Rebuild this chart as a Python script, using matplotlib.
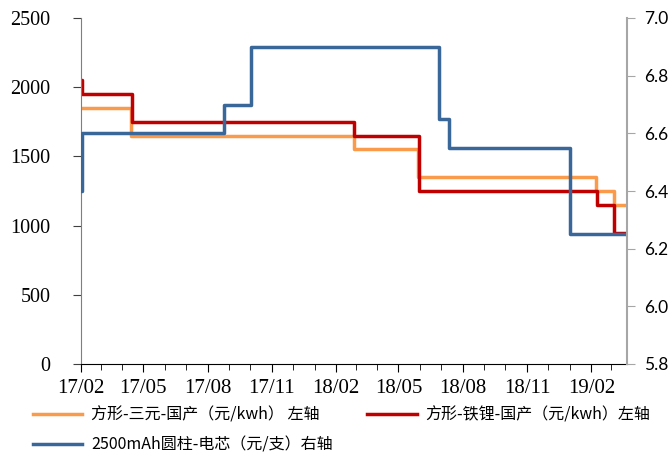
import numpy as np
import pandas as pd
import matplotlib
matplotlib.use("Agg")
import matplotlib.pyplot as plt
import matplotlib.dates as mdates
from matplotlib.ticker import MultipleLocator, FormatStrFormatter

# price change points (step series, value holds until next date)
ncm_dates = ["2017-02-01", "2017-04-14", "2018-02-26", "2018-05-29", "2019-02-08", "2019-03-05", "2019-03-24"]
ncm_price = [1850, 1650, 1550, 1350, 1250, 1150, 1150]

lfp_dates = ["2017-02-01", "2017-02-03", "2017-04-15", "2018-02-26", "2018-05-30", "2019-02-09", "2019-03-05", "2019-03-24"]
lfp_price = [2050, 1950, 1750, 1650, 1250, 1150, 950, 950]

cyl_dates = ["2017-02-01", "2017-02-03", "2017-08-24", "2017-10-02", "2018-06-28", "2018-07-12", "2019-01-02", "2019-03-24"]
cyl_price = [6.4, 6.6, 6.7, 6.9, 6.65, 6.55, 6.25, 6.25]

labels = ["方形-三元-国产（元/kwh） 左轴", "方形-铁锂-国产（元/kwh）左轴", "2500mAh圆柱-电芯（元/支）右轴"]
colors = ["#F99B4A", "#C00000", "#3A679A"]

fig = plt.figure(figsize=(6.68, 4.57), dpi=100)
ax = fig.add_axes([81/668, 1-364/457, (627-81)/668, (364-18)/457])
ax2 = ax.twinx()

l1, = ax.plot(pd.to_datetime(ncm_dates), ncm_price, drawstyle="steps-post", color=colors[0], lw=2.5)
l2, = ax.plot(pd.to_datetime(lfp_dates), lfp_price, drawstyle="steps-post", color=colors[1], lw=2.5)
l3, = ax2.plot(pd.to_datetime(cyl_dates), cyl_price, drawstyle="steps-post", color=colors[2], lw=2.5)

ax.set_xlim(pd.Timestamp("2017-02-01"), pd.Timestamp("2019-03-24"))
ax.set_ylim(0, 2500)
ax.yaxis.set_major_locator(MultipleLocator(500))
ax2.set_ylim(5.8, 7.0)
ax2.yaxis.set_major_locator(MultipleLocator(0.2))
ax2.yaxis.set_major_formatter(FormatStrFormatter("%.1f"))

ax.xaxis.set_major_locator(mdates.MonthLocator(bymonth=[2, 5, 8, 11]))
ax.xaxis.set_minor_locator(mdates.MonthLocator())
ax.xaxis.set_major_formatter(mdates.DateFormatter("%y/%m"))

for a in (ax, ax2):
    a.spines["top"].set_visible(False)
ax.spines["right"].set_visible(False)
ax2.spines["left"].set_visible(False)
ax2.spines["bottom"].set_visible(False)
ax.spines["left"].set_color("#7F7F7F")
ax.spines["bottom"].set_color("#000000")
ax2.spines["right"].set_color("#A6A6A6")
ax2.spines["right"].set_linewidth(1.5)

ax.tick_params(axis="y", direction="out", length=6, color="#404040", pad=16)
ax.tick_params(axis="x", which="major", direction="out", length=6, pad=5)
ax.tick_params(axis="x", which="minor", direction="out", length=4)
ax2.tick_params(axis="y", direction="out", length=6, color="#A6A6A6", pad=6)

for t in ax.get_yticklabels():
    t.set_fontfamily("Liberation Serif")
    t.set_fontsize(14.5)
for t in ax.get_xticklabels():
    t.set_fontfamily("Liberation Serif")
    t.set_fontsize(15)
for t in ax2.get_yticklabels():
    t.set_fontfamily("Lato")
    t.set_fontsize(12.5)

fig.legend([l1, l3, l2], [labels[0], labels[2], labels[1]], ncol=2,
           loc="upper left", bbox_to_anchor=(0.049, 0.110), frameon=False,
           prop={"family": ["Noto Sans CJK SC", "DejaVu Sans"], "size": 11.5},
           handlelength=3.1, handletextpad=0.55, columnspacing=2.15, labelspacing=0.8,
           borderaxespad=0, borderpad=0)

fig.savefig("out.png", dpi=100)
